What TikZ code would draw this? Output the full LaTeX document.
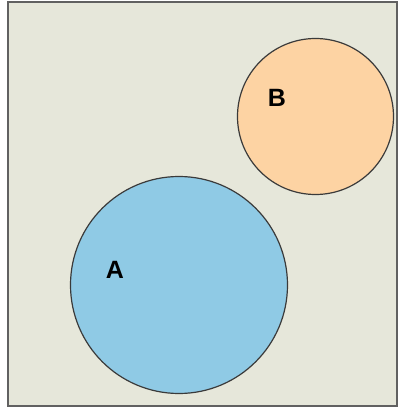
\documentclass[tikz,border=0pt]{standalone}
\usepackage{fontspec}
\setsansfont{Liberation Sans}
\usepackage{tikz}

\definecolor{bgpaper}{HTML}{E6E7DA}
\definecolor{setA}{HTML}{8FCAE5}
\definecolor{setB}{HTML}{FDD3A3}
\definecolor{edge}{HTML}{3A3A3A}

\tikzset{
    setcircle/.style={draw=edge, line width=1.2pt},
    setlabel/.style={font=\sffamily\bfseries\fontsize{25}{25}\selectfont, inner sep=0pt}
}

\begin{document}
\begin{tikzpicture}[x=1pt, y=1pt]
    \useasboundingbox (0,0) rectangle (398,408);

    % Universe
    \draw[fill=bgpaper, draw=edge!80, line width=2pt] (8,2) rectangle (397,406);

    % Two disjoint sets
    \draw[setcircle, fill=setA] (179,123) circle (108.5) coordinate (circA);
    \draw[setcircle, fill=setB] (315.5,291.5) circle (78) coordinate (circB);

    \node[setlabel] (labA) at (115,138) {A};
    \node[setlabel] (labB) at (277,310) {B};
\end{tikzpicture}
\end{document}
